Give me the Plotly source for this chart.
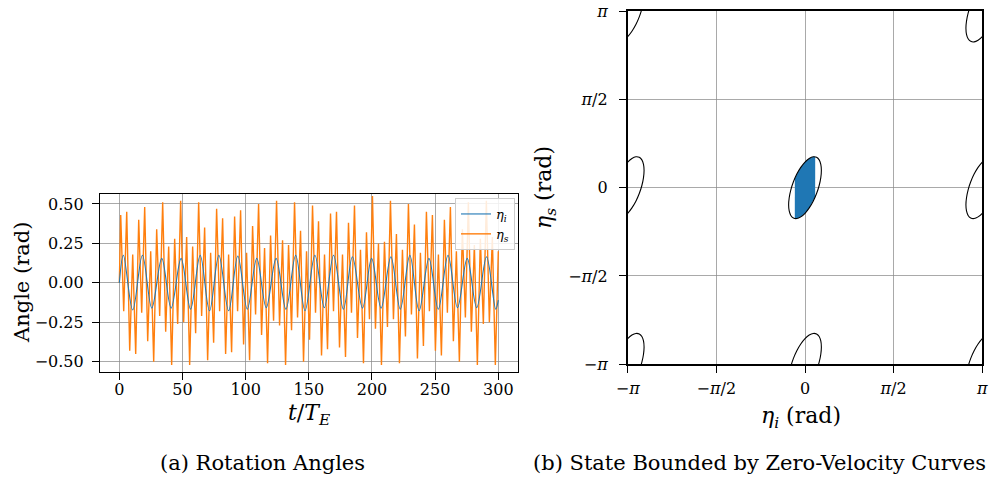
import math
import plotly.graph_objects as go

PI = math.pi

# ---------------- (a) Rotation angles: turning points ----------------
T_ETA_I = [0, 3.2, 10.6, 18.3, 25.7, 33.6, 41.0, 48.9, 56.4, 64.0, 71.4, 78.8, 86.5, 93.8,
           101.3, 108.8, 116.3, 124.1, 131.9, 139.6, 147.0, 154.8, 162.3, 169.6, 177.4,
           184.5, 192.5, 199.7, 207.2, 215.0, 222.4, 230.0, 237.3, 245.1, 252.5, 260.2,
           267.7, 275.4, 282.9, 290.7, 298.0, 300]
ETA_I = [0.0, 0.175, -0.172, 0.175, -0.160, 0.155, -0.160, 0.155, -0.167, 0.175, -0.177,
         0.175, -0.177, 0.170, -0.167, 0.155, -0.157, 0.155, -0.167, 0.175, -0.177, 0.175,
         -0.157, 0.175, -0.167, 0.165, -0.160, 0.155, -0.160, 0.165, -0.167, 0.175, -0.177,
         0.155, -0.167, 0.175, -0.157, 0.155, -0.157, 0.165, -0.167, -0.11]

T_ETA_S = [0,
           1.10, 3.47, 5.85, 8.22, 10.59, 12.96, 15.34, 17.71, 20.08, 22.45,
           24.83, 27.20, 29.57, 31.94, 34.32, 36.69, 39.06, 41.43, 43.81, 46.18,
           48.55, 50.92, 53.30, 55.67, 58.04, 60.41, 62.79, 65.16, 67.53, 69.90,
           72.28, 74.65, 77.02, 79.39, 81.77, 84.14, 86.51, 88.88, 91.26, 93.63,
           96.00, 98.37, 100.75, 103.12, 105.49, 107.86, 110.24, 112.61, 114.98, 117.35,
           119.73, 122.10, 124.47, 126.84, 129.22, 131.59, 133.96, 136.33, 138.71, 141.08,
           143.45, 145.82, 148.20, 150.57, 152.94, 155.31, 157.69, 160.06, 162.43, 164.80,
           167.18, 169.55, 171.92, 174.29, 176.67, 179.04, 181.41, 183.78, 186.16, 188.53,
           190.90, 193.27, 195.65, 198.02, 200.39, 202.76, 205.14, 207.51, 209.88, 212.25,
           214.63, 217.00, 219.37, 221.74, 224.12, 226.49, 228.86, 231.23, 233.61, 235.98,
           238.35, 240.72, 243.10, 245.47, 247.84, 250.21, 252.59, 254.96, 257.33, 259.70,
           262.08, 264.45, 266.82, 269.19, 271.57, 273.94, 276.31, 278.68, 281.06, 283.43,
           285.80, 288.17, 290.55, 292.92, 295.29, 297.66,
           300]
ETA_S = [0.0,
         0.43, -0.18, 0.45, -0.43, 0.18, -0.45, 0.40, -0.19, 0.48, -0.37,
         0.20, -0.50, 0.34, -0.21, 0.51, -0.31, 0.23, -0.52, 0.28, -0.26,
         0.52, -0.25, 0.29, -0.52, 0.23, -0.32, 0.51, -0.21, 0.35, -0.49,
         0.19, -0.38, 0.47, -0.18, 0.41, -0.45, 0.18, -0.44, 0.42, -0.18,
         0.46, -0.39, 0.19, -0.49, 0.36, -0.20, 0.50, -0.33, 0.22, -0.51,
         0.30, -0.24, 0.52, -0.27, 0.27, -0.52, 0.24, -0.30, 0.51, -0.22,
         0.33, -0.50, 0.20, -0.36, 0.49, -0.19, 0.39, -0.46, 0.18, -0.42,
         0.44, -0.18, 0.45, -0.41, 0.18, -0.47, 0.38, -0.19, 0.49, -0.35,
         0.21, -0.51, 0.32, -0.23, 0.55, -0.29, 0.25, -0.52, 0.26, -0.28,
         0.52, -0.23, 0.31, -0.51, 0.21, -0.34, 0.50, -0.20, 0.37, -0.48,
         0.19, -0.40, 0.45, -0.18, 0.43, -0.43, 0.18, -0.46, 0.40, -0.19,
         0.48, -0.37, 0.20, -0.50, 0.34, -0.22, 0.51, -0.31, 0.24, -0.52,
         0.28, -0.26, 0.52, -0.25, 0.29, -0.52,
         0.20]

T_TICKS = [0, 50, 100, 150, 200, 250, 300]
ANGLE_TICKS = [-0.5, -0.25, 0.0, 0.25, 0.5]
ANGLE_TICK_TEXT = ["\u22120.50", "\u22120.25", "0.00", "0.25", "0.50"]

# ---------------- (b) Zero-velocity curve (offsets from each lattice centre) ----------------
ZVC_DI = [0.290, 0.280, 0.251, 0.205, 0.145, 0.075, 0.000, -0.075, -0.145, -0.205, -0.251, -0.280,
          -0.290, -0.280, -0.251, -0.205, -0.145, -0.075, 0.000, 0.075, 0.145, 0.205, 0.251, 0.280, 0.290]
ZVC_DS = [0.308, 0.415, 0.494, 0.540, 0.549, 0.520, 0.456, 0.360, 0.241, 0.105, -0.038, -0.179,
          -0.308, -0.415, -0.494, -0.540, -0.549, -0.520, -0.456, -0.360, -0.241, -0.105, 0.038, 0.179, 0.308]
ZVC_CENTER_I = [0.0, -PI, PI, 0.0, -PI, PI, -PI, PI]
ZVC_CENTER_S = [0.0, 0.0, 0.0, -PI, -PI, -PI, PI, PI]

# visited state region (filled)
FILL_DI = [0.18, 0.18, 0.145, 0.075, 0.0, -0.075, -0.145, -0.18, -0.18, -0.145, -0.075, 0.0, 0.075, 0.145, 0.18]
FILL_DS = [-0.166, 0.548, 0.549, 0.520, 0.456, 0.360, 0.241, 0.166, -0.548, -0.549, -0.520, -0.456, -0.360, -0.241, -0.166]

PI_TICKS = [-PI, -PI / 2, 0, PI / 2, PI]
PI_TICK_TEXT = ["\u2212<i>\u03c0</i>", "\u2212<i>\u03c0</i>/2", "0", "<i>\u03c0</i>/2", "<i>\u03c0</i>"]

FONT = "DejaVu Serif"
BLUE = "#1f77b4"
ORANGE = "#ff7f0e"

W, H = 992, 477


def px(x):
    return x / W


def py(y):
    return 1 - y / H


fig = go.Figure()

fig.add_trace(go.Scatter(x=T_ETA_S, y=ETA_S, mode="lines", name="<i>\u03b7<sub>s</sub></i>",
                         line=dict(color=ORANGE, width=1.4), legendrank=2,
                         xaxis="x", yaxis="y"))
fig.add_trace(go.Scatter(x=T_ETA_I, y=ETA_I, mode="lines", name="<i>\u03b7<sub>i</sub></i>",
                         line=dict(color=BLUE, width=1.1, shape="spline", smoothing=1.0),
                         legendrank=1, xaxis="x", yaxis="y"))

fig.add_trace(go.Scatter(x=FILL_DI, y=FILL_DS, mode="lines", fill="toself", fillcolor=BLUE,
                         line=dict(width=0, color=BLUE), showlegend=False,
                         xaxis="x2", yaxis="y2", hoverinfo="skip"))
for ci, cs in zip(ZVC_CENTER_I, ZVC_CENTER_S):
    fig.add_trace(go.Scatter(x=[ci + d for d in ZVC_DI], y=[cs + d for d in ZVC_DS],
                             mode="lines", line=dict(color="black", width=1.1, shape="spline"),
                             showlegend=False, xaxis="x2", yaxis="y2", hoverinfo="skip"))

tick_font = dict(family=FONT, size=16, color="black")
grid_col = "rgba(140,140,140,0.75)"

common = dict(showline=True, linecolor="black", mirror=True, ticks="outside", ticklen=7,
              tickcolor="black", tickwidth=1.2, tickfont=tick_font, showgrid=True,
              gridcolor=grid_col, gridwidth=1, zeroline=False, automargin=False)

fig.update_layout(
    width=W, height=H,
    margin=dict(l=0, r=0, t=0, b=0, pad=0),
    paper_bgcolor="white", plot_bgcolor="white",
    font=dict(family=FONT, color="black"),
    xaxis=dict(domain=[px(100), px(517.5)], range=[-15.3, 315.2], tickvals=T_TICKS,
               anchor="y", linewidth=1.2, ticklabelstandoff=-4, **common),
    yaxis=dict(domain=[py(371.7), py(194)], range=[-0.563, 0.563], tickvals=ANGLE_TICKS,
               ticktext=ANGLE_TICK_TEXT, anchor="x", linewidth=1.2, ticklabelstandoff=5, **common),
    xaxis2=dict(domain=[px(627.7), px(982.3)], range=[-PI, PI], tickvals=PI_TICKS,
                ticktext=PI_TICK_TEXT, anchor="y2", linewidth=1.6, ticklabelstandoff=2, **common),
    yaxis2=dict(domain=[py(364.3), py(11)], range=[-PI, PI], tickvals=PI_TICKS,
                ticktext=PI_TICK_TEXT, anchor="x2", linewidth=1.6, ticklabelstandoff=8, **common),
    legend=dict(x=px(515), y=py(198), xanchor="right", yanchor="top",
                bgcolor="rgba(255,255,255,0.85)", bordercolor="#cccccc", borderwidth=1,
                font=dict(family=FONT, size=13, color="black"), itemwidth=30,
                tracegroupgap=0),
    showlegend=True,
)

ann = [
    dict(x=px(22), y=py(283), text="Angle (rad)", textangle=-90, size=21),
    dict(x=px(309), y=py(414), text="<i>t</i>/<i>T<sub>E</sub></i>", textangle=0, size=22),
    dict(x=px(545), y=py(188), text="<i>\u03b7<sub>s</sub></i> (rad)", textangle=-90, size=22),
    dict(x=px(801), y=py(417), text="<i>\u03b7<sub>i</sub></i> (rad)", textangle=0, size=22),
    dict(x=px(262), y=py(463), text="(a) Rotation Angles", textangle=0, size=21),
    dict(x=px(759), y=py(463), text="(b) State Bounded by Zero-Velocity Curves", textangle=0, size=21),
]
for a in ann:
    fig.add_annotation(x=a["x"], y=a["y"], xref="paper", yref="paper", text=a["text"],
                       textangle=a["textangle"], showarrow=False, xanchor="center",
                       yanchor="middle", font=dict(family=FONT, size=a["size"], color="black"))

fig.write_html("out.html")
